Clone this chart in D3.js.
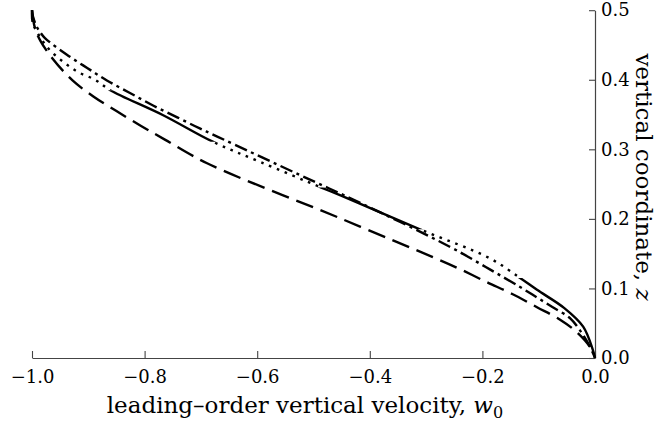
<!DOCTYPE html>
<html>
<head>
<meta charset="utf-8">
<script src="https://cdn.jsdelivr.net/npm/d3@7"></script>
<style>
  body { margin: 0; background: #fff; }
  svg { display: block; }
  text { font-family: "DejaVu Serif", serif; fill: #000; }
</style>
</head>
<body>
<div id="chart"></div>
<script>
// curve 1: drawn solid in some z-bands and dotted in the others
const mixedW = [-1.000, -0.999, -0.992, -0.972, -0.945, -0.918, -0.888, -0.861, -0.767, -0.679, -0.595, -0.486, -0.453, -0.311, -0.186, -0.133, -0.103, -0.055, -0.021, -0.004, 0];
const mixedZ = [0.500, 0.483, 0.470, 0.446, 0.426, 0.411, 0.400, 0.385, 0.349, 0.311, 0.282, 0.245, 0.234, 0.185, 0.143, 0.115, 0.098, 0.072, 0.045, 0.012, 0];
const solidBands = [[0.483, 0.5], [0.311, 0.385], [0.185, 0.245], [0, 0.115]];

// curve 2: dash-dot
const dashDotW = [-1.000, -0.998, -0.992, -0.986, -0.977, -0.938, -0.902, -0.867, -0.826, -0.785, -0.742, -0.702, -0.670, -0.524, -0.417, -0.258, -0.186, -0.133, -0.103, -0.075, -0.044, -0.027, -0.010, 0];
const dashDotZ = [0.500, 0.490, 0.477, 0.469, 0.460, 0.436, 0.417, 0.399, 0.381, 0.363, 0.346, 0.330, 0.318, 0.263, 0.223, 0.160, 0.127, 0.102, 0.087, 0.073, 0.057, 0.040, 0.018, 0];

// curve 3: dashed
const dashedW = [-1.000, -0.995, -0.985, -0.964, -0.928, -0.891, -0.850, -0.807, -0.764, -0.689, -0.453, -0.288, -0.243, -0.192, -0.147, -0.103, -0.062, -0.032, -0.009, 0];
const dashedZ = [0.500, 0.475, 0.456, 0.431, 0.399, 0.376, 0.355, 0.334, 0.314, 0.280, 0.201, 0.145, 0.129, 0.109, 0.092, 0.073, 0.055, 0.037, 0.016, 0];

const xMajor = [-1.0, -0.8, -0.6, -0.4, -0.2, 0.0];
const xMinor = [-0.95, -0.9, -0.85, -0.75, -0.7, -0.65, -0.55, -0.5, -0.45, -0.35, -0.3, -0.25, -0.15, -0.1, -0.05];
const yMajor = [0.0, 0.1, 0.2, 0.3, 0.4, 0.5];
const yMinor = [0.02, 0.04, 0.06, 0.08, 0.12, 0.14, 0.16, 0.18, 0.22, 0.24, 0.26, 0.28, 0.32, 0.34, 0.36, 0.38, 0.42, 0.44, 0.46, 0.48];

const width = 658, height = 423;

const svg = d3.select("#chart")
    .append("svg")
    .attr("width", width)
    .attr("height", height);

const x = d3.scaleLinear().domain([-1, 0]).range([32, 595]);
const y = d3.scaleLinear().domain([0, 0.5]).range([358, 10.2]);

const fmt = d3.format(".1f");
const axisColor = "#444";

// x axis, ticks pointing up into the plot
const gx = svg.append("g").attr("transform", `translate(0,${y(0)})`);
gx.call(d3.axisBottom(x).tickValues(xMinor).tickSizeInner(-3.5).tickSizeOuter(0).tickFormat(""));
gx.call(d3.axisBottom(x).tickValues(xMajor).tickSizeInner(-7).tickSizeOuter(0).tickPadding(12).tickFormat(fmt));

// y axis on the right, ticks pointing left
const gy = svg.append("g").attr("transform", `translate(${x(0)},0)`);
gy.call(d3.axisRight(y).tickValues(yMinor).tickSizeInner(-3.5).tickSizeOuter(0).tickFormat(""));
gy.call(d3.axisRight(y).tickValues(yMajor).tickSizeInner(-6).tickSizeOuter(0).tickPadding(6).tickFormat(fmt));

svg.selectAll(".domain").attr("stroke", axisColor).attr("stroke-width", 1.2);
svg.selectAll(".tick line").attr("stroke", axisColor).attr("stroke-width", 1.1);
svg.selectAll(".tick text")
    .attr("font-family", "DejaVu Serif")
    .attr("font-size", 18)
    .attr("fill", "#000");

// clip bands for solid / dotted parts of curve 1
const defs = svg.append("defs");
const solidClip = defs.append("clipPath").attr("id", "solid-bands");
solidBands.forEach(b => {
    solidClip.append("rect")
        .attr("x", 0).attr("width", width)
        .attr("y", y(b[1])).attr("height", y(b[0]) - y(b[1]));
});
const dotClip = defs.append("clipPath").attr("id", "dot-bands");
const edges = [0].concat(...solidBands.map(b => b)).concat([0.5]).sort((a, b) => a - b);
for (let i = 0; i < edges.length - 1; i += 2) {
    const lo = edges[i], hi = edges[i + 1];
    if (hi > lo) {
        dotClip.append("rect")
            .attr("x", 0).attr("width", width)
            .attr("y", y(hi)).attr("height", y(lo) - y(hi));
    }
}

const line = d3.line()
    .x(d => x(d[0]))
    .y(d => y(d[1]))
    .curve(d3.curveCatmullRom.alpha(0.5));

const zipped = (ws, zs) => ws.map((w, i) => [w, zs[i]]);

const curves = svg.append("g").attr("fill", "none").attr("stroke", "#000").attr("stroke-width", 2.4);

curves.append("path")
    .attr("d", line(zipped(dashedW, dashedZ)))
    .attr("stroke-dasharray", "18,8");

curves.append("path")
    .attr("d", line(zipped(dashDotW, dashDotZ)))
    .attr("stroke-dasharray", "13,4.5,3,4.5");

curves.append("path")
    .attr("d", line(zipped(mixedW, mixedZ)))
    .attr("clip-path", "url(#dot-bands)")
    .attr("stroke-dasharray", "2.6,5.8");

curves.append("path")
    .attr("d", line(zipped(mixedW, mixedZ)))
    .attr("clip-path", "url(#solid-bands)");

// axis titles
const xt = svg.append("text")
    .attr("x", 305)
    .attr("y", 413)
    .attr("text-anchor", "middle")
    .attr("font-size", 23);
xt.append("tspan").text("leading–order vertical velocity, ");
xt.append("tspan").attr("font-style", "italic").text("w");
xt.append("tspan").attr("font-size", 16).attr("dy", 5).text("0");

const yt = svg.append("text")
    .attr("transform", "translate(636,177) rotate(90)")
    .attr("text-anchor", "middle")
    .attr("font-size", 23);
yt.append("tspan").text("vertical coordinate, ");
yt.append("tspan").attr("font-style", "italic").text("z");
</script>
</body>
</html>
